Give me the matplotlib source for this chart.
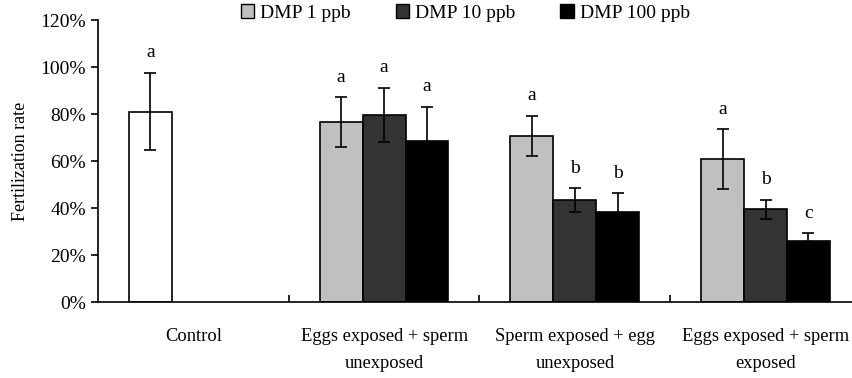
import numpy as np
import matplotlib.pyplot as plt
from matplotlib.patches import Patch
from matplotlib.ticker import FixedLocator

plt.rcParams['font.family'] = ['Liberation Serif', 'DejaVu Serif']

# категорије и подаци
categories = ['Control', 'Eggs exposed + sperm\nunexposed',
              'Sperm exposed + egg\nunexposed', 'Eggs exposed + sperm\nexposed']
series_names = ['DMP 1 ppb', 'DMP 10 ppb', 'DMP 100 ppb']

control_mean = 81.0
control_err = 16.5
control_letter = 'a'

dmp_means = [
    [76.5, 70.8, 60.9],   # DMP 1 ppb
    [79.6, 43.4, 39.4],   # DMP 10 ppb
    [68.5, 38.4, 26.1],   # DMP 100 ppb
]
dmp_errs = [
    [10.7, 8.5, 12.7],
    [11.5, 5.1, 4.2],
    [14.6, 8.0, 3.1],
]
dmp_letters = [
    ['a', 'a', 'a'],
    ['a', 'b', 'b'],
    ['a', 'b', 'c'],
]

colors = ['#c0c0c0', '#333333', '#000000']
w = 0.225

fig = plt.figure(figsize=(8.52, 3.78), dpi=100)
ax = fig.add_axes([0.115, 0.201, 0.8955, 0.746])

# контрола
ax.bar(0 - w, control_mean, w, color='white', edgecolor='black', lw=1.2,
       yerr=control_err, capsize=4, error_kw=dict(lw=1.2, capthick=1.2))
ax.text(0 - w, control_mean + control_err + 8.5, control_letter,
        ha='center', va='center', fontsize=14)

x = np.arange(1, 4)
for i in range(3):
    xs = x + (i - 1) * w
    ax.bar(xs, dmp_means[i], w, color=colors[i], edgecolor='black', lw=1.2,
           yerr=dmp_errs[i], capsize=4, error_kw=dict(lw=1.2, capthick=1.2),
           label=series_names[i])
    for xx, m, e, lt in zip(xs, dmp_means[i], dmp_errs[i], dmp_letters[i]):
        ax.text(xx, m + e + 8.5, lt, ha='center', va='center', fontsize=14)

ax.set_xlim(-0.5, 3.5)
ax.set_ylim(0, 120)
ax.set_yticks(np.arange(0, 121, 20))
ax.set_yticklabels([f'{v}%' for v in range(0, 121, 20)], fontsize=14)
ax.set_xticks(range(4))
ax.set_xticklabels(categories, fontsize=13.3, linespacing=1.7)
ax.tick_params(axis='x', length=0, pad=19)
ax.xaxis.set_minor_locator(FixedLocator([0.5, 1.5, 2.5]))
ax.tick_params(axis='x', which='minor', direction='in', length=5, width=1.2)
ax.tick_params(axis='y', direction='out', length=5, width=1.2)
ax.spines['top'].set_visible(False)
ax.spines['right'].set_visible(False)
ax.spines['left'].set_linewidth(1.2)
ax.spines['bottom'].set_linewidth(1.2)
ax.set_ylabel('Fertilization rate', fontsize=13, labelpad=8)

handles = [Patch(facecolor=c, edgecolor='black', lw=1) for c in colors]
fig.legend(handles, series_names, loc='upper center', ncol=3,
           bbox_to_anchor=(0.546, 1.035), frameon=False, fontsize=14,
           handlelength=0.7, handleheight=0.7, handletextpad=0.3,
           columnspacing=2.3)

fig.savefig('out.png', dpi=100)
